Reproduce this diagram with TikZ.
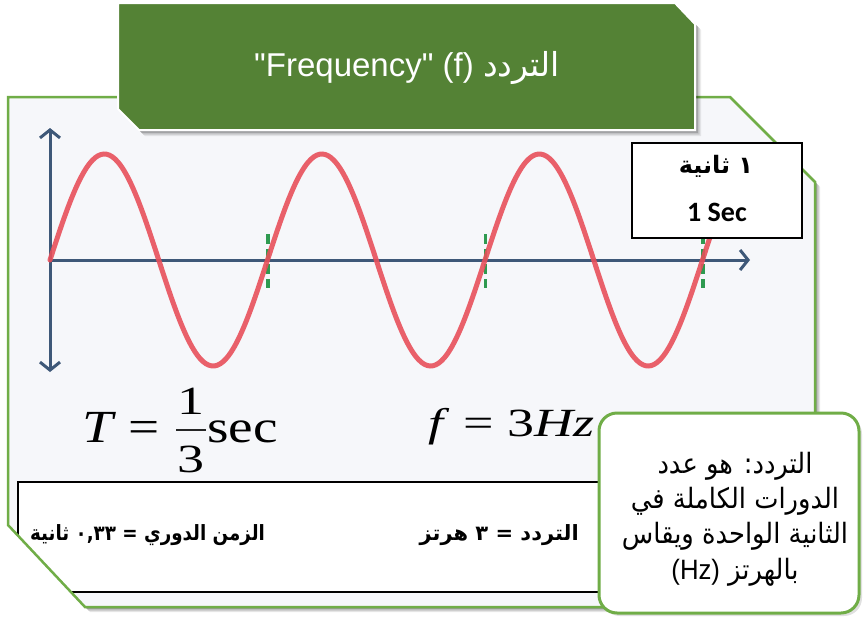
\documentclass[tikz,border=0pt]{standalone}
\usepackage{fontspec}
\setmainfont{Liberation Sans}
\newfontfamily\arabicfont[Script=Arabic]{DejaVu Sans}
\newfontfamily\tnr{Liberation Serif}
\newfontfamily\calib{Carlito}
\newfontfamily\titlefont{Liberation Sans}[Ligatures=TeXOff]
\TeXXeTstate=1
\usetikzlibrary{arrows.meta}
\definecolor{titlegreen}{HTML}{548235}
\definecolor{framegreen}{HTML}{70AD47}
\definecolor{axisblue}{HTML}{3E5878}
\definecolor{wavered}{HTML}{E8505B}
\definecolor{markgreen}{HTML}{2F9A50}
\definecolor{panelbg}{HTML}{F6F7FA}
\tikzset{barbtip/.tip={Straight Barb[length=8pt,width=20pt]}}
\begin{document}
\begin{tikzpicture}[x=1pt,y=-1pt,
  axisline/.style={draw=axisblue, line width=3pt},
  wavepath/.style={draw=wavered, line width=5pt, line cap=round},
  markline/.style={draw=markgreen, line width=3.4pt, dash pattern=on 10pt off 5pt},
  formula/.style={font=\tnr\fontsize{46}{50}\selectfont, inner sep=0pt, xscale=1.2},
  formulab/.style={font=\tnr\fontsize{40}{44}\selectfont, inner sep=0pt, xscale=1.35},
  btext/.style={font=\arabicfont\bfseries\fontsize{21}{24}\selectfont, inner sep=0pt},
]
\useasboundingbox (0,0) rectangle (863,619);
\fill[white] (0,0) rectangle (863,619);

% frame shadow
\foreach \d/\o in {5/0.10,3.5/0.15,2/0.2}{
  \fill[black, opacity=\o] (8+\d,97+\d) -- (730+\d,97+\d) -- (815+\d,182+\d) -- (815+\d,607+\d) -- (85+\d,607+\d) -- (8+\d,525+\d) -- cycle;
}
% frame fill
\fill[panelbg] (8,97) -- (730,97) -- (815,182) -- (815,607) -- (85,607) -- (8,525) -- cycle;

% bottom black box (clipped by frame)
\begin{scope}
  \clip (8,97) -- (730,97) -- (815,182) -- (815,607) -- (85,607) -- (8,525) -- cycle;
  \draw[black, line width=1.8pt, fill=white] (18,482) rectangle (900,592);
\end{scope}

% axes
\coordinate (vtop) at (50,128);
\coordinate (vbot) at (50,372);
\coordinate (hleft) at (50,260);
\coordinate (hright) at (750,260);
\draw[axisline, {barbtip}-{barbtip}] (vbot) -- (vtop);
\draw[axisline, -{barbtip}] (hleft) -- (hright);

% period markers
\coordinate (m1a) at (268,234); \coordinate (m1b) at (268,288);
\coordinate (m2a) at (485.5,234); \coordinate (m2b) at (485.5,288);
\coordinate (m3a) at (703,234); \coordinate (m3b) at (703,288);
\draw[markline] (m1a) -- (m1b);
\draw[markline] (m2a) -- (m2b);
\draw[markline] (m3a) -- (m3b);

% wave
\draw[wavepath, opacity=0.9] plot[domain=50:728, samples=240, smooth] (\x, {260-106*sin(1.65517*(\x-50))});

% formulas
\node[formula, anchor=base west] (Tsym) at (82,442) {\itshape T};
\node[formula, anchor=base west] (eqA) at (128,442) {=};
\coordinate (barL) at (176,430);
\coordinate (barR) at (206,430);
\draw[black!85, line width=2.2pt] (barL) -- (barR);
\node[formulab, anchor=base] (numone) at (191,414) {1};
\node[formulab, anchor=base] (denthree) at (191,472) {3};
\node[formula, anchor=base west] (secw) at (207,442) {sec};
\node[formulab, anchor=base west] (fsym) at (428,436) {\itshape f};
\node[formulab, anchor=base west] (eqB) at (463,436) {=};
\node[formulab, anchor=base west] (hzval) at (507,436) {3\itshape Hz};

% bottom box texts
\node[btext, anchor=east] (freqtxt) at (579,535) {\beginR التردد = ٣ هرتز\endR};
\node[btext, anchor=west, xscale=0.87] (periodtxt) at (30,535) {\beginR الزمن الدوري = \beginL٠,٣٣\endL{} ثانية\endR};

% frame outline
\draw[framegreen, line width=2.5pt, line join=miter] (8,97) -- (730,97) -- (815,182) -- (815,607) -- (85,607) -- (8,525) -- cycle;

% 1 sec box
\draw[black, line width=1.8pt, fill=white] (632,143) rectangle (802,238);
\node[font=\arabicfont\bfseries\fontsize{24}{26}\selectfont, inner sep=0pt] (sec1ar) at (716,166) {\beginR ١ ثانية\endR};
\node[font=\calib\bfseries\fontsize{28}{30}\selectfont, inner sep=0pt, anchor=base] (sec1en) at (717,221) {1 Sec};

% title box
\foreach \d/\o in {6/0.08,4.5/0.12,3/0.18}{
  \fill[black, opacity=\o] (118+\d,3+\d) -- (675+\d,3+\d) -- (695+\d,24+\d) -- (695+\d,130+\d) -- (139+\d,130+\d) -- (118+\d,109+\d) -- cycle;
}
\draw[white, line width=2pt, fill=titlegreen] (118,3) -- (675,3) -- (695,24) -- (695,130) -- (139,130) -- (118,109) -- cycle;
\node[text=white, font=\titlefont\fontsize{33}{36}\selectfont, inner sep=0pt] (title) at (407,68) {"Frequency" (f) {\arabicfont التردد}};

% definition box
\fill[black, opacity=0.12, rounded corners=18pt] (602,416) rectangle (862,616);
\draw[framegreen, line width=3pt, fill=white, rounded corners=18pt] (599,413) rectangle (859,613);
\node[font=\arabicfont\fontsize{28}{35.3}\selectfont, align=center, inner sep=0pt, xscale=0.92] (deftext) at (735,519)
  {\beginR التردد: هو عدد\endR\\
   \beginR الدورات الكاملة في\endR\\
   \beginR الثانية الواحدة ويقاس\endR\\
   {\normalfont (Hz)} بالهرتز};
\end{tikzpicture}
\end{document}
